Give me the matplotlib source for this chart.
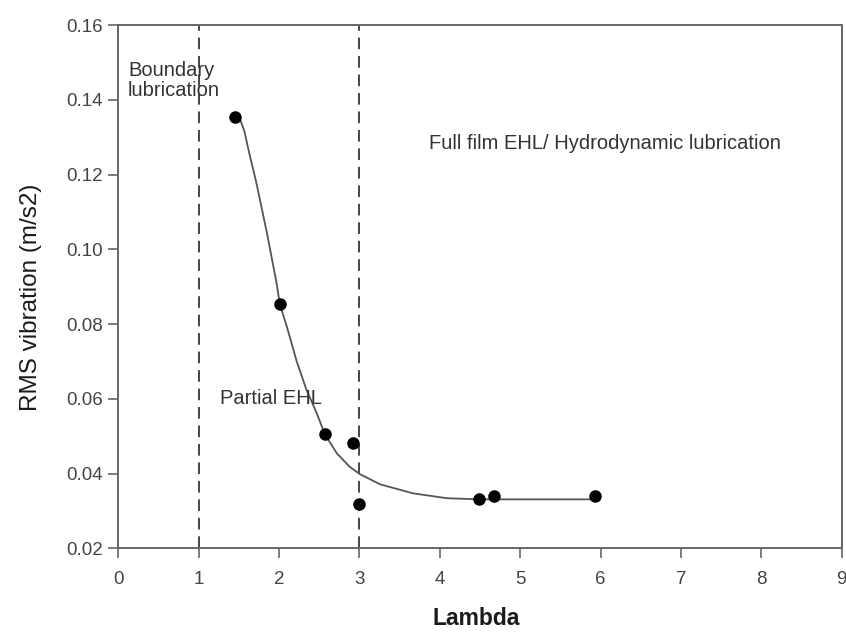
import matplotlib
matplotlib.use("Agg")
import matplotlib.pyplot as plt

plt.rcParams['font.family'] = ['Liberation Sans', 'DejaVu Sans']

# ========== Data ==========
lam = [1.45, 2.01, 2.57, 2.92, 2.99, 4.49, 4.67, 5.93]
rms = [0.1354, 0.0853, 0.0505, 0.0481, 0.0319, 0.0331, 0.0340, 0.0340]

# fitted curve as drawn in the figure
fit_lam = [1.45, 1.52, 1.57, 1.62, 1.72, 1.85, 1.97, 2.01, 2.095, 2.22, 2.34, 2.47,
           2.57, 2.72, 2.88, 3.01, 3.26, 3.67, 4.09, 4.50, 4.90, 5.40, 5.95]
fit_rms = [0.1354, 0.1345, 0.1315, 0.1266, 0.1176, 0.1043, 0.0909, 0.0853, 0.0795,
           0.0700, 0.0625, 0.0561, 0.0505, 0.0454, 0.0418, 0.0398, 0.0371, 0.0347,
           0.0334, 0.0331, 0.0331, 0.0331, 0.0331]

regime_bounds = [1, 3]
xticks = list(range(0, 10))
yticks = [0.02, 0.04, 0.06, 0.08, 0.10, 0.12, 0.14, 0.16]

# ========== Plot ==========
fig = plt.figure(figsize=(8.46, 6.35), dpi=100)
ax = fig.add_axes([0.1398, 0.1365, 0.9949 - 0.1398, 0.9606 - 0.1365])

for xb in regime_bounds:
    ax.axvline(xb, color='#444444', lw=1.4, ls=(0, (6, 3.5)), zorder=1)

ax.plot(fit_lam, fit_rms, color='#555555', lw=1.3, zorder=2)
ax.plot(lam, rms, 'o', color='black', ms=8, zorder=3)

ax.set_xlim(0, 9)
ax.set_ylim(0.02, 0.16)
ax.set_xticks(xticks)
ax.set_yticks(yticks)
ax.set_yticklabels([f"{v:.2f}" for v in yticks])

for side in ['top', 'right', 'left', 'bottom']:
    ax.spines[side].set_color('#666666')
    ax.spines[side].set_linewidth(1.4)
ax.tick_params(axis='both', direction='out', length=7, width=1.2,
               color='#666666', labelcolor='#444444', labelsize=13.5)
ax.tick_params(axis='y', pad=4)
ax.tick_params(axis='x', pad=9)

ax.set_xlabel('Lambda', fontsize=16.5, fontweight='bold', color='#1a1a1a', va='top')
ax.xaxis.set_label_coords(0.495, -0.112)
ax.set_ylabel('RMS vibration (m/s2)', fontsize=17.5, color='#1a1a1a')
ax.yaxis.set_label_coords(-0.106, 0.48)

ax.text(0.12, 0.1451, 'Boundary\nlubrication', fontsize=14.5, color='#333333',
        va='center', ha='left', linespacing=1.05)
ax.text(1.26, 0.0601, 'Partial EHL', fontsize=14.5, color='#333333', va='center', ha='left')
ax.text(3.86, 0.1284, 'Full film EHL/ Hydrodynamic lubrication', fontsize=14.5,
        color='#333333', va='center', ha='left')

fig.savefig('out.png', dpi=100)
